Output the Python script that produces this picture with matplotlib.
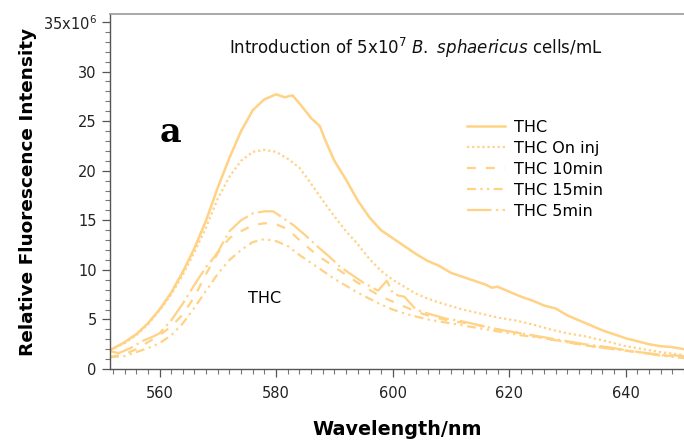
import matplotlib
matplotlib.use("Agg")
import matplotlib.pyplot as plt
from matplotlib.ticker import MultipleLocator, FixedLocator

# Emission spectra (intensity in units of 1e6)
wl_thc = [551.5, 554, 556, 558, 560, 562, 564, 566, 568, 570, 572, 574, 576, 578, 580,
          581.5, 582.8, 584, 586, 587.5, 588.5, 590, 592, 594, 596, 598, 600, 602, 604,
          606, 608, 610, 612, 614, 616, 617, 618, 620, 622, 624, 626, 628, 630, 632,
          634, 636, 638, 640, 642, 644, 646, 648, 650]
thc = [1.9, 2.7, 3.5, 4.6, 6.0, 7.7, 9.8, 12.2, 15.0, 18.3, 21.3, 24.0, 26.1, 27.2, 27.7,
       27.4, 27.6, 26.8, 25.3, 24.5, 23.0, 21.0, 19.1, 17.0, 15.3, 14.0, 13.2, 12.4, 11.6,
       10.9, 10.4, 9.7, 9.3, 8.9, 8.5, 8.2, 8.3, 7.8, 7.3, 6.9, 6.4, 6.1, 5.4, 4.9,
       4.4, 3.9, 3.5, 3.1, 2.8, 2.5, 2.3, 2.2, 2.0]

wl_oninj = [551.5, 554, 556, 558, 560, 562, 564, 566, 568, 570, 572, 574, 576, 578, 580,
            582, 584, 586, 588, 590, 592, 594, 596, 598, 600, 602, 604, 606, 608, 610,
            612, 615, 618, 621, 624, 627, 630, 633, 636, 640, 643, 646, 650]
thc_oninj = [1.9, 2.6, 3.4, 4.5, 5.9, 7.5, 9.5, 11.8, 14.3, 17.2, 19.4, 21.0, 21.9, 22.1, 21.9,
             21.2, 20.3, 18.7, 17.0, 15.4, 13.9, 12.6, 11.1, 9.9, 9.0, 8.3, 7.6, 7.1, 6.7, 6.35,
             6.0, 5.6, 5.2, 4.9, 4.5, 4.0, 3.6, 3.3, 2.9, 2.3, 2.0, 1.7, 1.4]

wl_10 = [551.5, 554, 556, 558, 560, 562, 564, 566, 568, 570, 572, 574, 576, 578, 580,
         582, 584, 586, 588, 590, 592, 594, 596, 598, 600, 602, 604, 606, 608, 610,
         614, 618, 622, 626, 630, 634, 638, 642, 646, 650]
thc_10 = [1.2, 1.5, 2.0, 2.7, 3.4, 4.3, 5.5, 7.3, 9.6, 11.7, 13.2, 13.9, 14.5, 14.7, 14.6,
          14.1, 13.0, 12.0, 11.1, 10.3, 9.5, 8.7, 8.0, 7.3, 6.8, 6.3, 5.8, 5.4, 5.1, 4.85,
          4.5, 4.0, 3.6, 3.1, 2.7, 2.3, 2.0, 1.7, 1.4, 1.2]

wl_15 = [551.5, 554, 556, 558, 560, 562, 564, 566, 568, 570, 572, 574, 576, 578, 580,
         582, 584, 586, 588, 590, 592, 594, 596, 598, 600, 602, 604, 606, 610,
         614, 618, 622, 626, 630, 634, 638, 642, 646, 650]
thc_15 = [1.2, 1.3, 1.7, 2.1, 2.6, 3.4, 4.6, 6.2, 7.9, 9.6, 11.0, 12.0, 12.8, 13.1, 12.9,
          12.4, 11.5, 10.7, 9.9, 9.1, 8.4, 7.7, 7.1, 6.5, 6.0, 5.6, 5.3, 5.0, 4.6,
          4.2, 3.8, 3.4, 3.1, 2.7, 2.3, 2.0, 1.7, 1.35, 1.1]

wl_5 = [551.5, 553, 555, 557, 559, 560, 562, 564, 566, 568, 569, 570, 572, 574, 576, 578,
        579.5, 581, 583, 585, 587, 589, 591, 593, 595, 597.5, 599, 600, 601, 602, 604,
        606, 609, 612, 615, 618, 621, 625, 629, 633, 637, 641, 645, 650]
thc_5 = [1.8, 1.6, 2.1, 2.8, 3.3, 3.6, 4.9, 6.6, 8.5, 10.3, 11.0, 11.8, 13.9, 15.0, 15.7, 15.9,
         15.9, 15.3, 14.5, 13.5, 12.4, 11.4, 10.3, 9.5, 8.7, 7.9, 8.9, 7.7, 7.4, 7.3, 6.0,
         5.6, 5.1, 4.8, 4.4, 4.0, 3.7, 3.3, 2.9, 2.5, 2.2, 1.8, 1.5, 1.3]

labels = ["THC", "THC On inj", "THC 10min", "THC 15min", "THC 5min"]
y_ticks = [0, 5, 10, 15, 20, 25, 30, 35]
y_ticklabels = ["0", "5", "10", "15", "20", "25", "30", r"35x10$^6$"]
x_ticks = [560, 580, 600, 620, 640]

color = "#FFD285"

fig = plt.figure(figsize=(6.84, 4.41), dpi=100)
ax = fig.add_axes([110 / 684, 1 - 369 / 441, 574 / 684, (369 - 14) / 441])

ax.plot(wl_thc, thc, color=color, lw=1.8, ls="-", label=labels[0])
ax.plot(wl_oninj, thc_oninj, color=color, lw=1.6, ls=(0, (1, 1.3)), label=labels[1])
ax.plot(wl_10, thc_10, color=color, lw=1.6, ls=(0, (4, 4.5)), label=labels[2])
ax.plot(wl_15, thc_15, color=color, lw=1.6, ls=(0, (4, 2, 1, 2, 1, 2)), label=labels[3])
ax.plot(wl_5, thc_5, color=color, lw=1.6, ls=(0, (11, 2, 1, 2)), label=labels[4])

ax.set_xlim(551.5, 650)
ax.set_ylim(0, 35.8)

ax.xaxis.set_major_locator(FixedLocator(x_ticks))
ax.xaxis.set_minor_locator(MultipleLocator(2))
ax.yaxis.set_major_locator(FixedLocator(y_ticks))
ax.yaxis.set_minor_locator(MultipleLocator(1))
ax.set_yticklabels(y_ticklabels)

ax.tick_params(axis="both", which="major", direction="out", length=6, width=0.9,
               color="#555555", labelsize=10.5, labelcolor="#222222")
ax.tick_params(axis="both", which="minor", direction="out", length=3.5, width=0.8,
               color="#777777")
ax.tick_params(axis="x", which="major", pad=6)

for side in ("left", "bottom"):
    ax.spines[side].set_color("#555555")
    ax.spines[side].set_linewidth(1.0)
ax.spines["top"].set_color("#999999")
ax.spines["top"].set_linewidth(1.2)
ax.spines["right"].set_visible(False)

ax.set_xlabel("Wavelength/nm", fontsize=13.8, fontweight="bold", labelpad=14)
ax.set_ylabel("Relative Fluorescence Intensity", fontsize=13.3, fontweight="bold")
ax.yaxis.set_label_coords(-0.128, 0.5)

ax.text(0.208, 0.905, r"Introduction of 5x10$^7$ $\it{B.\ sphaericus}$ cells/mL",
        transform=ax.transAxes, fontsize=12, color="#111111", va="center", ha="left")
ax.text(0.087, 0.665, "a", transform=ax.transAxes, fontsize=24, fontweight="bold",
        family="DejaVu Serif", va="center", ha="left")
ax.text(0.24, 0.199, "THC", transform=ax.transAxes, fontsize=11.5, va="center", ha="left")

leg = ax.legend(loc="upper left", bbox_to_anchor=(0.61, 0.72), frameon=False,
                fontsize=11.5, handlelength=2.4, handletextpad=0.55, labelspacing=0.38,
                borderaxespad=0)

fig.savefig("out.png", dpi=100)
